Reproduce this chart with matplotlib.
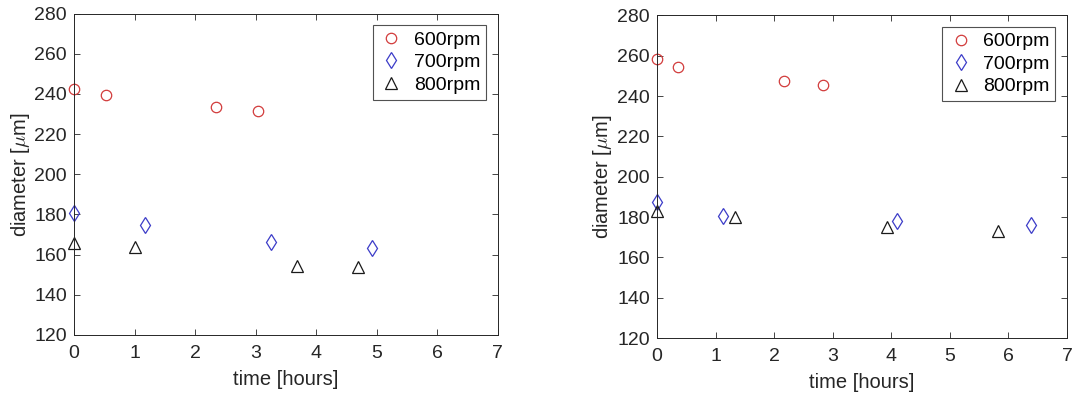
import matplotlib.pyplot as plt

plt.rcParams['font.family'] = ['Liberation Sans', 'DejaVu Sans']
plt.rcParams['mathtext.fontset'] = 'cm'

# left panel
t600_a = [0, 0.52, 2.34, 3.04]
d600_a = [242.6, 239.5, 233.3, 231.7]
t700_a = [0, 1.17, 3.25, 4.93]
d700_a = [180.5, 174.5, 166.2, 163.4]
t800_a = [0, 1.0, 3.68, 4.69]
d800_a = [166.0, 163.9, 154.3, 154.0]

# right panel
t600_b = [0, 0.36, 2.17, 2.83]
d600_b = [258.1, 254.3, 247.5, 245.3]
t700_b = [0, 1.13, 4.1, 6.39]
d700_b = [187.5, 180.7, 177.9, 176.2]
t800_b = [0, 1.34, 3.93, 5.82]
d800_b = [183.1, 179.8, 175.3, 172.9]

labels = ['600rpm', '700rpm', '800rpm']
xticks = [0, 1, 2, 3, 4, 5, 6, 7]
yticks = [120, 140, 160, 180, 200, 220, 240, 260, 280]

fig = plt.figure(figsize=(10.92, 4.03), dpi=100)
ax1 = fig.add_axes([0.0678, 0.169, 0.388, 0.797])
ax2 = fig.add_axes([0.6016, 0.161, 0.3755, 0.801])

panels = [
    (ax1, t600_a, d600_a, t700_a, d700_a, t800_a, d800_a),
    (ax2, t600_b, d600_b, t700_b, d700_b, t800_b, d800_b),
]

axcol = '#262626'
for ax, t6, d6, t7, d7, t8, d8 in panels:
    ax.plot(t6, d6, 'o', ms=7.5, mfc='none', mec='#d23c3c', mew=0.9, label=labels[0], ls='none', clip_on=False)
    ax.plot(t7, d7, 'd', ms=8, mfc='none', mec='#3c3cc8', mew=0.9, label=labels[1], ls='none', clip_on=False)
    ax.plot(t8, d8, '^', ms=8.5, mfc='none', mec='#1a1a1a', mew=0.9, label=labels[2], ls='none', clip_on=False)
    ax.set_xlim(0, 7)
    ax.set_ylim(120, 280)
    ax.set_xticks(xticks)
    ax.set_yticks(yticks)
    ax.tick_params(direction='in', top=True, right=True, length=4, width=0.6,
                   colors=axcol, labelsize=14, labelcolor=axcol)
    ax.tick_params(axis='x', pad=7)
    ax.tick_params(axis='y', pad=5)
    for s in ax.spines.values():
        s.set_color(axcol)
        s.set_linewidth(0.7)
    ax.set_xlabel('time [hours]', fontsize=14.5, color=axcol, labelpad=6)
    ax.set_ylabel(r'diameter [$\mu$m]', fontsize=14.5, color=axcol, labelpad=2)
    leg = ax.legend(loc='upper right', fontsize=14, frameon=True, fancybox=False,
                    edgecolor=axcol, handletextpad=0.5, borderaxespad=0.6,
                    labelspacing=0.25, handlelength=1.3, borderpad=0.3)
    leg.get_frame().set_linewidth(0.8)

fig.savefig('out.png', dpi=100)
